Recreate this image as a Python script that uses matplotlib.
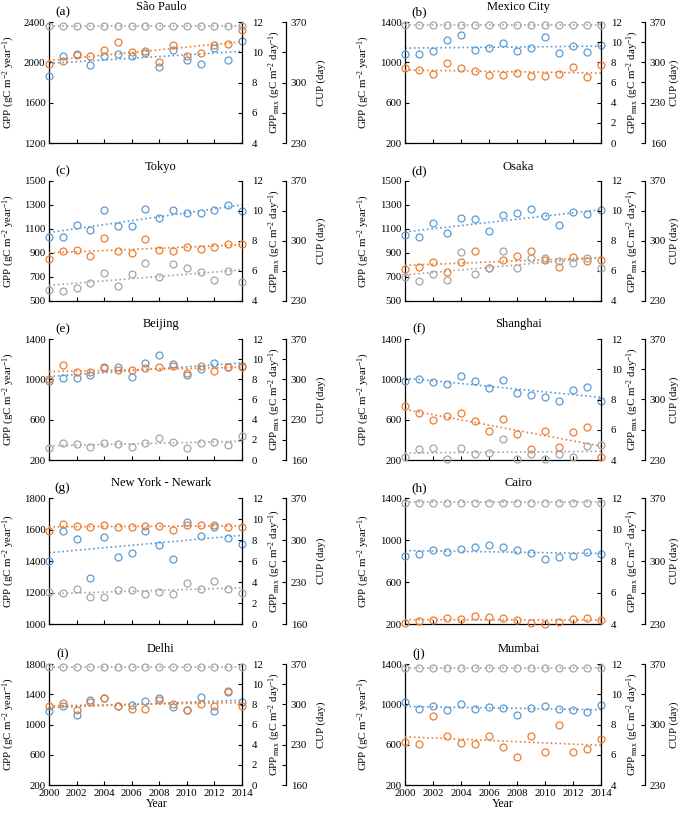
import numpy as np
import matplotlib
matplotlib.use("Agg")
import matplotlib.pyplot as plt

plt.rcParams["font.family"] = ["Liberation Serif", "DejaVu Serif"]
plt.rcParams["mathtext.fontset"] = "custom"
plt.rcParams["mathtext.rm"] = "Liberation Serif"
plt.rcParams["mathtext.it"] = "Liberation Serif:italic"
plt.rcParams["mathtext.bf"] = "Liberation Serif:bold"

years = [2000, 2001, 2002, 2003, 2004, 2005, 2006, 2007, 2008, 2009, 2010, 2011, 2012, 2013, 2014]

# GPP (left axis), GPPmax (inner right axis), CUP (outer right axis)
sao_paulo_gpp = [1860, 2062, 2082, 1976, 2059, 2082, 2065, 2095, 1953, 2122, 2019, 1986, 2142, 2019, 2214]
sao_paulo_gppmax = [9.22, 9.39, 9.80, 9.72, 10.17, 10.67, 9.99, 10.10, 9.33, 10.48, 9.75, 9.97, 10.50, 10.56, 11.45]
sao_paulo_cup = [365, 365, 365, 365, 365, 365, 365, 365, 365, 365, 365, 365, 365, 365, 365]

mexico_gpp = [1085, 1085, 1115, 1221, 1267, 1122, 1141, 1194, 1115, 1145, 1251, 1088, 1158, 1102, 1175]
mexico_gppmax = [7.39, 7.23, 6.83, 7.96, 7.43, 7.16, 6.76, 6.76, 6.90, 6.63, 6.63, 6.83, 7.56, 6.53, 7.72]
mexico_cup = [365, 365, 365, 365, 365, 365, 365, 365, 365, 365, 365, 365, 365, 365, 365]

tokyo_gpp = [1031, 1031, 1131, 1092, 1256, 1125, 1125, 1269, 1192, 1261, 1231, 1236, 1256, 1297, 1253]
tokyo_gppmax = [6.82, 7.33, 7.38, 6.98, 8.18, 7.31, 7.22, 8.11, 7.38, 7.31, 7.58, 7.44, 7.60, 7.80, 7.78]
tokyo_cup = [243, 242, 245, 251, 263, 247, 261, 274, 258, 273, 268, 264, 254, 265, 252]

osaka_gpp = [1049, 1035, 1149, 1065, 1188, 1180, 1082, 1216, 1233, 1263, 1208, 1132, 1244, 1227, 1255]
osaka_gppmax = [6.16, 6.28, 6.61, 5.96, 6.61, 7.32, 6.20, 6.72, 7.03, 7.32, 6.72, 6.28, 6.94, 6.68, 6.72]
osaka_cup = [258, 253, 261, 255, 287, 261, 268, 288, 269, 280, 280, 277, 274, 280, 269]

beijing_gpp = [982, 1014, 1014, 1044, 1122, 1125, 1024, 1165, 1237, 1155, 1041, 1103, 1158, 1125, 1130]
beijing_gppmax = [8.08, 9.38, 8.76, 8.73, 9.12, 8.93, 8.96, 9.12, 9.25, 9.32, 8.60, 9.32, 8.80, 9.19, 9.19]
beijing_cup = [181, 190, 187, 182, 190, 188, 183, 190, 198, 191, 181, 189, 192, 186, 201]

shanghai_gpp = [980, 1003, 970, 953, 1034, 983, 913, 997, 862, 845, 825, 785, 896, 923, 785]
shanghai_gppmax = [7.54, 7.13, 6.62, 6.89, 7.11, 6.57, 5.90, 6.69, 5.74, 4.74, 5.95, 4.85, 5.83, 6.15, 4.22]
shanghai_cup = [233, 243, 244, 231, 244, 237, 238, 254, 231, 237, 231, 237, 233, 246, 247]

newyork_gpp = [1397, 1593, 1542, 1290, 1551, 1425, 1452, 1589, 1499, 1410, 1646, 1557, 1617, 1544, 1506]
newyork_gppmax = [8.86, 9.54, 9.34, 9.28, 9.41, 9.28, 9.28, 9.34, 9.34, 8.99, 9.47, 9.47, 9.44, 9.22, 9.25]
newyork_cup = [213, 212, 219, 205, 205, 217, 217, 210, 214, 210, 228, 219, 231, 219, 212]

cairo_gpp = [849, 862, 903, 887, 910, 932, 951, 938, 906, 875, 820, 839, 852, 887, 871]
cairo_gppmax = [4.08, 4.21, 4.23, 4.40, 4.34, 4.51, 4.44, 4.36, 4.27, 4.08, 3.97, 4.12, 4.31, 4.40, 4.25]
cairo_cup = [365, 365, 365, 365, 365, 365, 365, 365, 365, 365, 365, 365, 365, 365, 365]

delhi_gpp = [1172, 1247, 1127, 1318, 1349, 1250, 1260, 1313, 1349, 1234, 1195, 1358, 1185, 1428, 1296]
delhi_gppmax = [7.86, 8.16, 7.43, 8.25, 8.59, 7.86, 7.56, 7.49, 8.39, 8.06, 7.46, 8.06, 7.86, 9.35, 7.86]
delhi_cup = [365, 365, 365, 365, 365, 365, 365, 365, 365, 365, 365, 365, 365, 365, 365]

mumbai_gpp = [1019, 956, 979, 939, 1006, 956, 976, 962, 890, 959, 982, 956, 946, 926, 989]
mumbai_gppmax = [6.87, 6.70, 8.53, 7.25, 6.76, 6.74, 7.25, 6.52, 5.88, 7.27, 6.17, 8.00, 6.21, 6.41, 7.03]
mumbai_cup = [365, 365, 365, 365, 365, 365, 365, 365, 365, 365, 365, 365, 365, 365, 365]

letters = ["(a)", "(b)", "(c)", "(d)", "(e)", "(f)", "(g)", "(h)", "(i)", "(j)"]
cities = ["São Paulo", "Mexico City", "Tokyo", "Osaka", "Beijing", "Shanghai",
          "New York - Newark", "Cairo", "Delhi", "Mumbai"]
gpp_all = [sao_paulo_gpp, mexico_gpp, tokyo_gpp, osaka_gpp, beijing_gpp, shanghai_gpp,
           newyork_gpp, cairo_gpp, delhi_gpp, mumbai_gpp]
gppmax_all = [sao_paulo_gppmax, mexico_gppmax, tokyo_gppmax, osaka_gppmax, beijing_gppmax,
              shanghai_gppmax, newyork_gppmax, cairo_gppmax, delhi_gppmax, mumbai_gppmax]
cup_all = [sao_paulo_cup, mexico_cup, tokyo_cup, osaka_cup, beijing_cup, shanghai_cup,
           newyork_cup, cairo_cup, delhi_cup, mumbai_cup]

# axis ranges (min, max, step)
gpp_axis = [(1200, 2400, 400), (200, 1400, 400), (500, 1500, 200), (500, 1500, 200),
            (200, 1400, 400), (200, 1400, 400), (1000, 1800, 200), (200, 1400, 400),
            (200, 1800, 400), (200, 1400, 400)]
gppmax_axis = [(4, 12), (0, 12), (4, 12), (4, 12), (0, 12), (4, 12), (0, 12), (4, 12), (0, 12), (4, 12)]
cup_axis = [(230, 370), (160, 370), (230, 370), (230, 370), (160, 370), (230, 370),
            (160, 370), (230, 370), (160, 370), (230, 370)]

BLUE = "#5B9BD5"
ORANGE = "#ED7D31"
GREY = "#A5A5A5"

W, H = 685, 813
col_x = [49, 405]
col_w = [193, 196]
row_top = [22, 181, 339, 498, 664]
row_bot = [143, 301, 460, 624, 785]
# label anchor positions in axes fractions, per column
gpp_lab_x = [-0.165, -0.17]
gppmax_lab_x = [1.13, 1.12]
cup_lab_x = [1.385, 1.35]
year_x = [0.56, 0.5]

fig = plt.figure(figsize=(W / 100, H / 100), dpi=100)


def series(ax, y, color):
    ax.plot(years, y, "o", mfc="none", mec=color, ms=5, mew=0.9, clip_on=False, zorder=3)
    p = np.polyfit(years, y, 1)
    ax.plot(years, np.polyval(p, years), ":", color=color, lw=1.2, clip_on=False, zorder=2)


for i in range(10):
    r, c = i // 2, i % 2
    rect = [col_x[c] / W, 1 - row_bot[r] / H, col_w[c] / W, (row_bot[r] - row_top[r]) / H]
    ax = fig.add_axes(rect)
    ax2 = ax.twinx()
    ax3 = ax.twinx()
    ax3.spines["right"].set_position(("outward", 32))

    for a in (ax, ax2, ax3):
        a.spines["top"].set_visible(False)
        for s in a.spines.values():
            s.set_linewidth(0.9)
    ax.spines["right"].set_visible(False)
    for a in (ax2, ax3):
        a.spines["left"].set_visible(False)
        a.spines["bottom"].set_visible(False)

    lo, hi, step = gpp_axis[i]
    ax.set_xlim(2000, 2014)
    ax.set_ylim(lo, hi)
    ax.set_yticks(np.arange(lo, hi + 1, step))
    ax.set_xticks(np.arange(2000, 2015, 2))
    ax.tick_params(direction="in", length=3, width=0.8, labelsize=7.8, pad=2.5)
    ax.tick_params(axis="x", labelbottom=(r == 4), pad=3)

    glo, ghi = gppmax_axis[i]
    ax2.set_ylim(glo, ghi)
    ax2.set_yticks(np.arange(glo, ghi + 1, 2))
    ax2.tick_params(direction="in", length=3, width=0.8, labelsize=7.8, pad=7)

    clo, chi = cup_axis[i]
    cticks = np.arange(clo, chi + 1, 35)
    ax3.set_ylim(clo, chi)
    ax3.set_yticks(cticks)
    ax3.set_yticklabels([str(v) if (v - clo) % 70 == 0 else "" for v in cticks])
    ax3.tick_params(direction="in", length=3, width=0.8, labelsize=7.8, pad=3)

    series(ax, gpp_all[i], BLUE)
    series(ax2, gppmax_all[i], ORANGE)
    series(ax3, cup_all[i], GREY)

    ax.set_ylabel("GPP (gC m$^{-2}$ year$^{-1}$)", fontsize=7.8)
    ax2.set_ylabel("GPP$_{\\rm max}$ (gC m$^{-2}$ day$^{-1}$)", fontsize=7.8)
    ax3.set_ylabel("CUP (day)", fontsize=7.8)
    ax.yaxis.set_label_coords(gpp_lab_x[c], 0.5)
    ax2.yaxis.set_label_coords(gppmax_lab_x[c], 0.5)
    ax3.yaxis.set_label_coords(cup_lab_x[c], 0.5)

    ax.text(0.07, 1.08, letters[i], transform=ax.transAxes, ha="center", va="center", fontsize=9.5)
    ax.text(0.58, 1.12, cities[i], transform=ax.transAxes, ha="center", va="center", fontsize=9)
    if r == 4:
        ax.text(year_x[c], -0.16, "Year", transform=ax.transAxes,
                ha="center", va="center", fontsize=8.5)

fig.savefig("out.png", dpi=100)
